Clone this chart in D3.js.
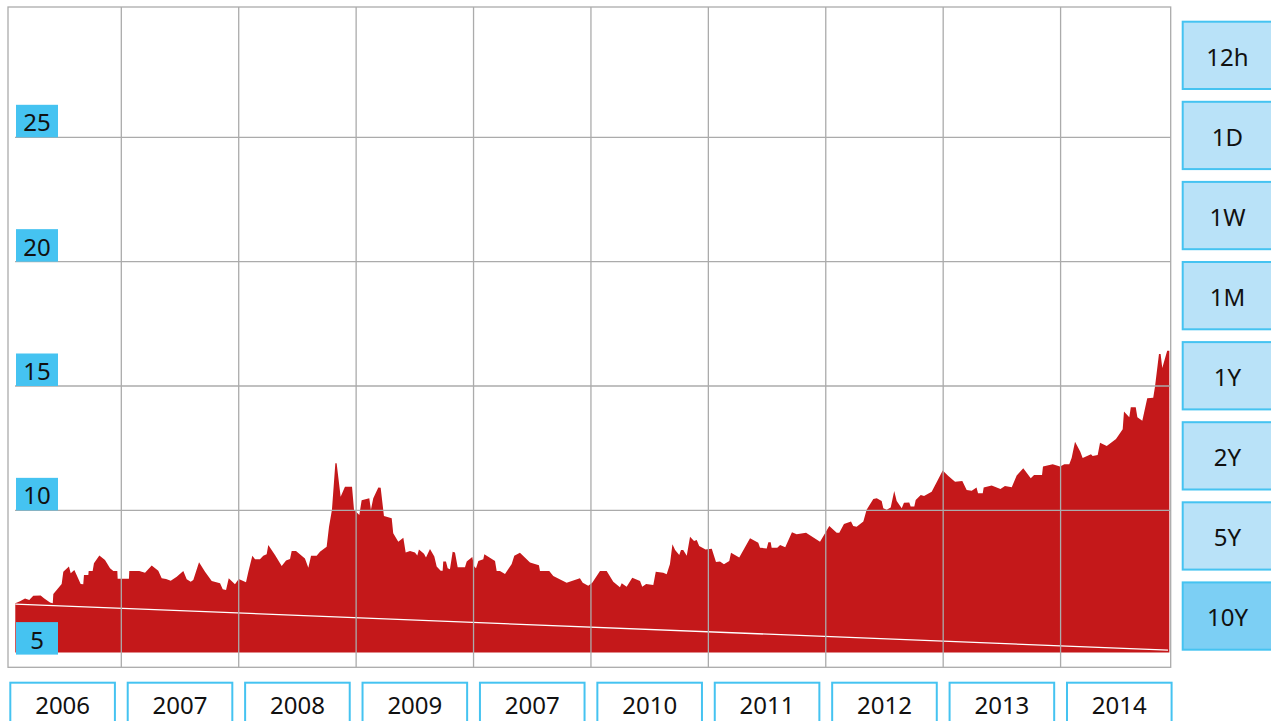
<!DOCTYPE html>
<html>
<head>
<meta charset="utf-8">
<script src="https://cdn.jsdelivr.net/npm/d3@7"></script>
<style>
  html, body { margin: 0; padding: 0; background: #fff; }
  svg { display: block; font-family: "Noto Sans", "Open Sans", sans-serif; }
</style>
</head>
<body>
<svg id="chart" width="1271" height="721"></svg>
<script>
// position along the 10 columns (0..10) and value
const pos = [
  0.097, 0.137, 0.180, 0.216, 0.250, 0.313, 0.344, 0.393, 0.416, 0.421,
  0.492, 0.506, 0.554, 0.569, 0.600, 0.654, 0.676, 0.682, 0.719, 0.722,
  0.756, 0.767, 0.813, 0.861, 0.904, 0.932, 0.966, 0.969, 1.065, 1.068,
  1.153, 1.202, 1.259, 1.315, 1.344, 1.381, 1.421, 1.472, 1.528, 1.557,
  1.591, 1.613, 1.662, 1.713, 1.770, 1.841, 1.864, 1.892, 1.915, 1.968,
  2.000, 2.062, 2.082, 2.116, 2.139, 2.181, 2.209, 2.238, 2.252, 2.309,
  2.366, 2.403, 2.437, 2.451, 2.488, 2.564, 2.593, 2.616, 2.664, 2.692,
  2.749, 2.769, 2.794, 2.823, 2.834, 2.868, 2.905, 2.965, 2.982, 3.027,
  3.047, 3.112, 3.126, 3.146, 3.189, 3.209, 3.237, 3.303, 3.316, 3.359,
  3.402, 3.422, 3.459, 3.501, 3.521, 3.535, 3.578, 3.595, 3.629, 3.666,
  3.686, 3.720, 3.737, 3.742, 3.765, 3.780, 3.799, 3.822, 3.842, 3.865,
  3.927, 3.942, 3.989, 4.006, 4.021, 4.041, 4.083, 4.092, 4.183, 4.197,
  4.225, 4.268, 4.325, 4.347, 4.395, 4.481, 4.557, 4.566, 4.645, 4.679,
  4.793, 4.906, 4.930, 4.977, 5.011, 5.077, 5.134, 5.190, 5.247, 5.262,
  5.304, 5.352, 5.418, 5.437, 5.470, 5.531, 5.552, 5.616, 5.645, 5.673,
  5.694, 5.717, 5.752, 5.767, 5.786, 5.816, 5.844, 5.878, 5.901, 5.922,
  5.976, 6.029, 6.065, 6.099, 6.133, 6.178, 6.193, 6.263, 6.355, 6.425,
  6.440, 6.497, 6.511, 6.531, 6.539, 6.587, 6.611, 6.655, 6.712, 6.752,
  6.832, 6.951, 6.985, 7.030, 7.093, 7.115, 7.155, 7.215, 7.234, 7.263,
  7.320, 7.348, 7.405, 7.434, 7.476, 7.490, 7.519, 7.553, 7.583, 7.604,
  7.647, 7.666, 7.711, 7.723, 7.754, 7.766, 7.809, 7.837, 7.902, 7.950,
  7.996, 8.044, 8.101, 8.163, 8.200, 8.243, 8.284, 8.297, 8.337, 8.345,
  8.413, 8.488, 8.526, 8.584, 8.626, 8.682, 8.746, 8.774, 8.842, 8.850,
  8.933, 8.995, 9.032, 9.074, 9.094, 9.123, 9.168, 9.188, 9.259, 9.273,
  9.316, 9.336, 9.393, 9.472, 9.529, 9.540, 9.585, 9.598, 9.640, 9.654,
  9.696, 9.738, 9.789, 9.804, 9.838, 9.852, 9.866, 9.908, 9.926
];
const price = [
  6.26, 6.35, 6.46, 6.40, 6.57, 6.58, 6.46, 6.29, 6.26, 6.64,
  7.04, 7.53, 7.74, 7.47, 7.60, 7.04, 7.03, 7.40, 7.40, 7.56,
  7.56, 7.87, 8.18, 8.00, 7.67, 7.56, 7.56, 7.25, 7.25, 7.56,
  7.56, 7.49, 7.78, 7.57, 7.27, 7.24, 7.17, 7.33, 7.56, 7.23,
  7.13, 7.20, 7.91, 7.53, 7.16, 7.07, 6.83, 6.80, 7.27, 7.03,
  7.24, 7.11, 7.53, 8.17, 8.03, 8.03, 8.17, 8.23, 8.61, 8.20,
  7.76, 7.98, 8.04, 8.37, 8.37, 8.06, 7.69, 8.17, 8.17, 8.34,
  8.54, 9.34, 10.02, 11.89, 11.89, 10.55, 10.95, 10.95, 10.02, 9.81,
  10.41, 10.49, 10.02, 10.49, 10.92, 10.91, 9.77, 9.68, 9.08, 8.74,
  8.90, 8.31, 8.37, 8.31, 8.18, 8.43, 8.25, 8.10, 8.45, 8.14,
  7.74, 7.57, 7.57, 7.94, 7.94, 7.67, 7.63, 8.34, 8.31, 7.71,
  7.71, 7.94, 8.12, 7.74, 7.67, 7.96, 8.03, 8.23, 7.96, 7.56,
  7.56, 7.44, 7.84, 8.17, 8.30, 7.90, 7.79, 7.56, 7.56, 7.36,
  7.09, 7.27, 7.09, 6.97, 7.09, 7.56, 7.56, 7.13, 6.91, 7.07,
  6.93, 7.29, 7.16, 6.93, 7.04, 7.00, 7.53, 7.49, 7.43, 7.84,
  8.64, 8.41, 8.20, 8.41, 8.41, 8.17, 8.94, 8.77, 8.81, 8.57,
  8.43, 8.46, 7.92, 7.94, 7.83, 7.96, 8.30, 8.10, 8.88, 8.70,
  8.50, 8.47, 8.72, 8.72, 8.50, 8.50, 8.61, 8.52, 9.12, 9.04,
  9.10, 8.74, 9.01, 9.37, 9.10, 9.10, 9.45, 9.55, 9.37, 9.34,
  9.55, 10.02, 10.46, 10.49, 10.38, 10.08, 10.02, 10.11, 10.78, 10.38,
  10.08, 10.31, 10.32, 10.15, 10.15, 10.42, 10.62, 10.58, 10.75, 11.18,
  11.60, 11.38, 11.15, 11.18, 10.82, 10.79, 10.92, 10.69, 10.69, 10.92,
  11.00, 10.86, 10.98, 10.93, 11.40, 11.69, 11.29, 11.42, 11.42, 11.76,
  11.85, 11.76, 11.85, 11.85, 12.10, 12.76, 12.36, 12.10, 12.26, 12.19,
  12.23, 12.72, 12.59, 12.87, 13.26, 13.97, 13.74, 14.15, 14.15, 13.74,
  13.60, 14.51, 14.53, 14.97, 16.29, 16.29, 15.72, 16.42, 16.42
];
const baseValue = 4.28;
const trendPos = [0.097, 9.915];
const trendValue = [6.23, 4.38];

const yTicks = [5, 10, 15, 20, 25];
const gridValues = [10, 15, 20, 25];
const colCount = 10;
const yearLabels = ["2006", "2007", "2008", "2009", "2007", "2010", "2011", "2012", "2013", "2014"];
const rangeLabels = ["12h", "1D", "1W", "1M", "1Y", "2Y", "5Y", "10Y"];
const activeRange = "10Y";

const BLUE = "#45c3f1";
const GRID = "#ababab";
const RED = "#c4181a";

const frame = { left: 8, top: 7, right: 1170.7, bottom: 667.3 };

const svg = d3.select("#chart");

const x = d3.scaleLinear().domain([0, colCount]).range([3.9, 1178]);
const y = d3.scaleLinear().domain([5, 25]).range([634.7, 137.3]);

const series = pos.map((p, i) => ({ p, v: price[i] }));

// area
const area = d3.area()
  .x((d) => x(d.p))
  .y0(y(baseValue))
  .y1((d) => y(d.v));

svg.append("path")
  .datum(series)
  .attr("fill", RED)
  .attr("d", area);

// trend line
svg.append("line")
  .attr("x1", x(trendPos[0])).attr("y1", y(trendValue[0]))
  .attr("x2", x(trendPos[1])).attr("y2", y(trendValue[1]))
  .attr("stroke", "#fff")
  .attr("stroke-width", 1.3);

// grid
const grid = svg.append("g").attr("stroke", GRID).attr("stroke-width", 1.3);

grid.selectAll("line.v")
  .data(d3.range(1, colCount))
  .join("line")
  .attr("class", "v")
  .attr("x1", (d) => x(d)).attr("x2", (d) => x(d))
  .attr("y1", frame.top).attr("y2", frame.bottom);

grid.selectAll("line.h")
  .data(gridValues)
  .join("line")
  .attr("class", "h")
  .attr("x1", 15).attr("x2", frame.right)
  .attr("y1", (d) => y(d)).attr("y2", (d) => y(d));

svg.append("rect")
  .attr("x", frame.left).attr("y", frame.top)
  .attr("width", frame.right - frame.left)
  .attr("height", frame.bottom - frame.top)
  .attr("fill", "none")
  .attr("stroke", GRID)
  .attr("stroke-width", 1.3);

// y labels
const yLab = svg.append("g").selectAll("g")
  .data(yTicks)
  .join("g")
  .attr("transform", (d) => {
    const bottom = d === yTicks[0] ? y(baseValue) + 2 : y(d);
    return `translate(16,${bottom - 32.5})`;
  });

yLab.append("rect")
  .attr("width", 42).attr("height", 32.5)
  .attr("fill", BLUE);

yLab.append("text")
  .attr("x", 21).attr("y", 17)
  .attr("text-anchor", "middle")
  .attr("dominant-baseline", "central")
  .attr("font-size", 24)
  .attr("fill", "#111")
  .text((d) => d);

// year buttons
const yearBtn = svg.append("g").selectAll("g")
  .data(yearLabels)
  .join("g")
  .attr("transform", (d, i) => `translate(${x(i + 0.5)},682.7)`);

yearBtn.append("rect")
  .attr("x", -52.3).attr("width", 104.6)
  .attr("height", 44)
  .attr("fill", "#fff")
  .attr("stroke", BLUE)
  .attr("stroke-width", 2);

yearBtn.append("text")
  .attr("y", 22)
  .attr("text-anchor", "middle")
  .attr("dominant-baseline", "central")
  .attr("font-size", 24)
  .attr("fill", "#111")
  .text((d) => d);

// range buttons
const rangeBtn = svg.append("g").selectAll("g")
  .data(rangeLabels)
  .join("g")
  .attr("transform", (d, i) => `translate(1182.7,${21.7 + i * 80.1})`);

rangeBtn.append("rect")
  .attr("width", 95).attr("height", 67.3)
  .attr("fill", (d) => (d === activeRange ? "#7ccff4" : "#b9e2f8"))
  .attr("stroke", BLUE)
  .attr("stroke-width", 2);

rangeBtn.append("text")
  .attr("x", 44.8).attr("y", 34.5)
  .attr("text-anchor", "middle")
  .attr("dominant-baseline", "central")
  .attr("font-size", 24)
  .attr("fill", "#111")
  .text((d) => d);
</script>
</body>
</html>
